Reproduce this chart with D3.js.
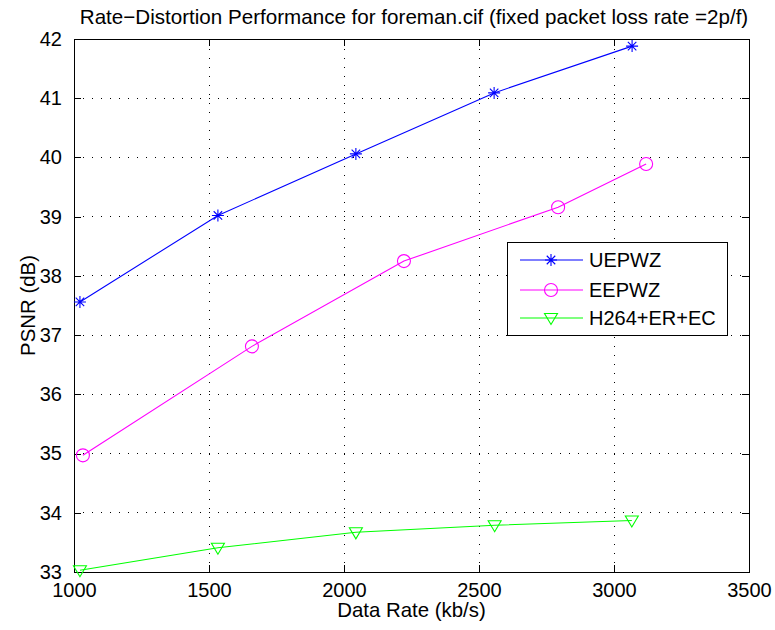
<!DOCTYPE html>
<html><head><meta charset="utf-8">
<script src="https://cdn.jsdelivr.net/npm/d3@7"></script>
<style>body{margin:0;background:#fff}svg{display:block}text{font-family:"Liberation Sans",Arial,sans-serif;fill:#000}</style>
</head><body><svg id="c" width="775" height="630"></svg>
<script>
const title = "Rate\u2212Distortion Performance for foreman.cif (fixed packet loss rate =2p/f)";
const xLabel = "Data Rate (kb/s)";
const yLabel = "PSNR (dB)";
const xTicks = [1000,1500,2000,2500,3000,3500];
const yTicks = [33,34,35,36,37,38,39,40,41,42];
const seriesNames = ["UEPWZ","EEPWZ","H264+ER+EC"];
const uepX = [1022,1533,2044,2556,3067];
const uepY = [37.56,39.02,40.06,41.09,41.88];
const eepX = [1033,1659,2222,2793,3119];
const eepY = [34.97,36.81,38.25,39.16,39.89];
const h264X = [1022,1533,2044,2558,3066];
const h264Y = [33.03,33.41,33.67,33.79,33.87];

const svg = d3.select("#c");
const L=74,R=749,T=39,B=572;
const x = d3.scaleLinear().domain([1000,3500]).range([L,R]);
const y = d3.scaleLinear().domain([33,42]).range([B,T]);
const FS = 20;

// grid
const g = svg.append("g");
g.selectAll(".gx").data(xTicks.slice(1,-1)).enter().append("line")
 .attr("x1",d=>x(d)).attr("x2",d=>x(d)).attr("y1",B).attr("y2",T)
 .attr("stroke","#000").attr("stroke-width",1).attr("stroke-dasharray","1,8").attr("shape-rendering","crispEdges");
g.selectAll(".gy").data(yTicks.slice(1,-1)).enter().append("line")
 .attr("y1",d=>y(d)).attr("y2",d=>y(d)).attr("x1",L).attr("x2",R)
 .attr("stroke","#000").attr("stroke-width",1).attr("stroke-dasharray","1,8").attr("shape-rendering","crispEdges");

// axes with inward ticks
const ax = (gen, tr) => svg.append("g").attr("transform",tr).call(gen)
 .call(s=>{s.select(".domain").remove();s.selectAll("line").attr("stroke","#000").attr("shape-rendering","crispEdges");
 s.selectAll("text").attr("font-size",FS).attr("font-family","Liberation Sans, Arial, sans-serif").attr("fill","#000");});
ax(d3.axisBottom(x).tickValues(xTicks).tickSize(-7).tickPadding(11).tickFormat(d3.format("d")), `translate(0,${B})`);
ax(d3.axisTop(x).tickValues(xTicks).tickSize(-7).tickFormat(""), `translate(0,${T})`);
ax(d3.axisLeft(y).tickValues(yTicks).tickSize(-7).tickPadding(12).tickFormat(d3.format("d")), `translate(${L},0)`);
ax(d3.axisRight(y).tickValues(yTicks).tickSize(-7).tickFormat(""), `translate(${R},0)`);

svg.append("rect").attr("x",L).attr("y",T).attr("width",R-L).attr("height",B-T)
 .attr("fill","none").attr("stroke","#000").attr("stroke-width",1).attr("shape-rendering","crispEdges");

// markers
function star(p,cx,cy,r){const d=r*0.7071;p.moveTo(cx-r,cy);p.lineTo(cx+r,cy);p.moveTo(cx,cy-r);p.lineTo(cx,cy+r);
 p.moveTo(cx-d,cy-d);p.lineTo(cx+d,cy+d);p.moveTo(cx-d,cy+d);p.lineTo(cx+d,cy-d);}
function circ(p,cx,cy,r){p.moveTo(cx+r,cy);p.arc(cx,cy,r,0,2*Math.PI);}
function tri(p,cx,cy,r){p.moveTo(cx-6.5,cy-4.5);p.lineTo(cx+6.5,cy-4.5);p.lineTo(cx,cy+6.5);p.closePath();}
const series = [
 {name:seriesNames[0],xs:uepX,ys:uepY,color:"#0000ff",m:star,r:6},
 {name:seriesNames[1],xs:eepX,ys:eepY,color:"#ff00ff",m:circ,r:6.5},
 {name:seriesNames[2],xs:h264X,ys:h264Y,color:"#00ff00",m:tri,r:6}
];
const line = d3.line().x(d=>x(d[0])).y(d=>y(d[1]));
series.forEach(s=>{
 const pts = s.xs.map((v,i)=>[v,s.ys[i]]);
 svg.append("path").attr("d",line(pts)).attr("fill","none").attr("stroke",s.color).attr("stroke-width",1.1);
 const p=d3.path(); pts.forEach(d=>s.m(p,x(d[0]),y(d[1]),s.r));
 svg.append("path").attr("d",p.toString()).attr("fill","none").attr("stroke",s.color).attr("stroke-width",1.1);
});

// legend
const lg = svg.append("g");
lg.append("rect").attr("x",507.5).attr("y",242.5).attr("width",220).attr("height",93).attr("fill","#fff").attr("stroke","#000");
const rows=[260,290,318];
series.forEach((s,i)=>{
 lg.append("line").attr("x1",520).attr("x2",583).attr("y1",rows[i]).attr("y2",rows[i]).attr("stroke",s.color).attr("stroke-width",1.1);
 const p=d3.path(); s.m(p,551,rows[i],s.r);
 lg.append("path").attr("d",p.toString()).attr("fill","none").attr("stroke",s.color).attr("stroke-width",1.1);
 lg.append("text").attr("x",589).attr("y",rows[i]+7).attr("font-size",FS).text(s.name);
});

svg.append("text").attr("x",414).attr("y",24).attr("text-anchor","middle").attr("font-size",20.6).text(title);
svg.append("text").attr("x",(L+R)/2).attr("y",617).attr("text-anchor","middle").attr("font-size",20.4).text(xLabel);
svg.append("text").attr("transform",`translate(35,${(T+B)/2}) rotate(-90)`).attr("text-anchor","middle").attr("font-size",20.4).text(yLabel);
</script></body></html>
